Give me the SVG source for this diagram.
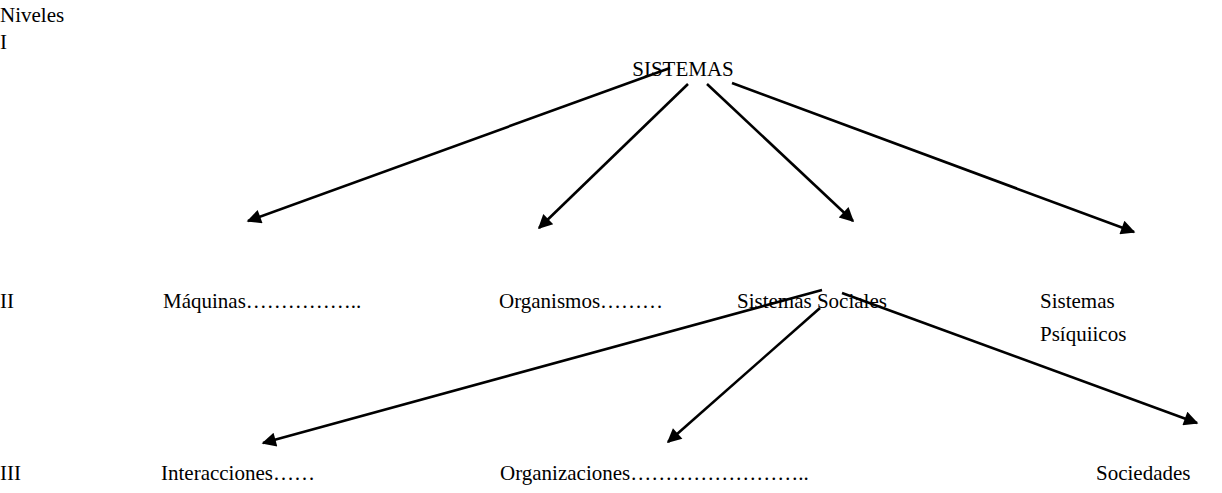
<svg xmlns="http://www.w3.org/2000/svg" width="1222" height="493" viewBox="0 0 1222 493">
<style>
text{font-family:"Liberation Serif","Times New Roman",serif;font-size:21px;fill:#000}
.c line{stroke:#000;stroke-width:2.6;marker-end:url(#ah)}
</style>
<defs>
<marker id="ah" viewBox="0 0 10 10" refX="9" refY="5" markerWidth="7" markerHeight="5.5" orient="auto" markerUnits="strokeWidth">
<path d="M0,0 L10,5 L0,10 z" fill="#000"/>
</marker>
</defs>
<rect width="1222" height="493" fill="#fff"/>
<g id="labels">
<text x="0" y="22">Niveles</text>
<text x="0" y="49">I</text>
<text x="0" y="308">II</text>
<text x="0" y="480">III</text>
</g>
<g id="sistemas"><text x="683" y="76" text-anchor="middle">SISTEMAS</text></g>
<g id="maquinas"><text x="163" y="308">Máquinas……………..</text></g>
<g id="organismos"><text x="499" y="308">Organismos………</text></g>
<g id="sociales"><text x="737" y="308">Sistemas Sociales</text></g>
<g id="psiquicos"><text x="1040" y="308">Sistemas</text><text x="1040" y="341">Psíquiicos</text></g>
<g id="interacciones"><text x="161" y="480">Interacciones……</text></g>
<g id="organizaciones"><text x="500" y="480">Organizaciones……………………..</text></g>
<g id="sociedades"><text x="1096" y="480">Sociedades</text></g>
<g class="c" id="connectors">
<line x1="670" y1="68" x2="248" y2="221"/>
<line x1="688" y1="84" x2="539" y2="228"/>
<line x1="707" y1="84" x2="853" y2="221"/>
<line x1="732" y1="83" x2="1134" y2="232"/>
<line x1="822" y1="290" x2="263" y2="443"/>
<line x1="820" y1="308" x2="668" y2="442"/>
<line x1="842" y1="293" x2="1197" y2="423"/>
</g>
</svg>
